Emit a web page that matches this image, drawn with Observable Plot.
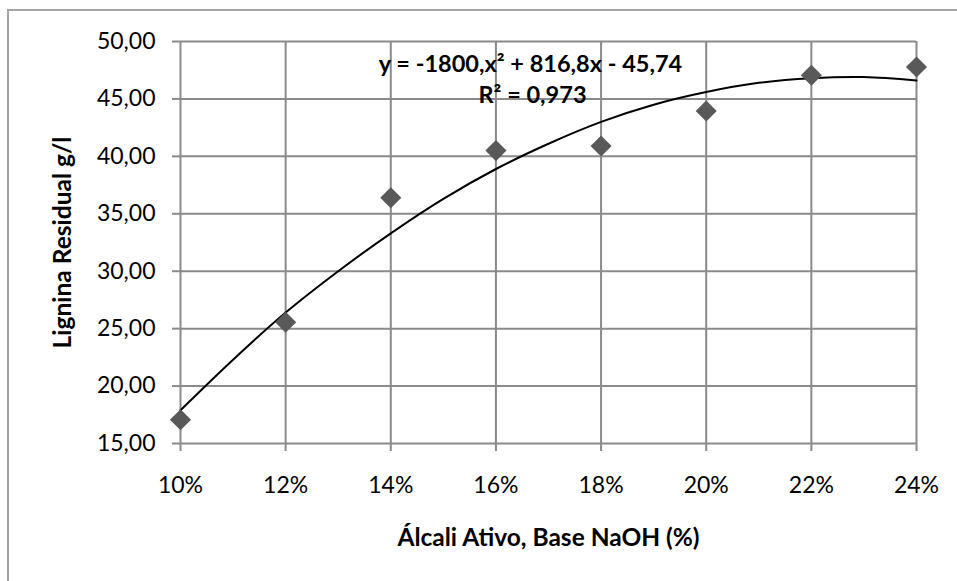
<!DOCTYPE html>
<html>
<head>
<meta charset="utf-8">
<script src="https://cdn.jsdelivr.net/npm/d3@7"></script>
<script src="https://cdn.jsdelivr.net/npm/@observablehq/plot@0.6"></script>
<style>
  html, body { margin: 0; padding: 0; background: #fff; overflow: hidden; }
  #wrap { position: relative; width: 957px; height: 581px; overflow: hidden; }
  #frame { position: absolute; left: 7px; top: 9px; width: 2000px; height: 2000px; border: 2px solid #a3a3a3; box-sizing: border-box; }
  #chart { position: absolute; left: 0; top: 0; }
</style>
</head>
<body>
<div id="wrap"><div id="frame"></div><div id="chart"></div></div>
<script>
// Measured points
const alkali = [0.10, 0.12, 0.14, 0.16, 0.18, 0.20, 0.22, 0.24];
const lignin = [17.07, 25.55, 36.4, 40.5, 40.9, 43.95, 47.06, 47.78];

// Polynomial trendline
const trendAlkali = [0.10, 0.11, 0.12, 0.13, 0.14, 0.15, 0.16, 0.17, 0.18, 0.19, 0.20, 0.21, 0.22, 0.23, 0.24];
const trendLignin = [17.9, 22.3, 26.4, 30.0, 33.3, 36.3, 38.9, 41.1, 43.0, 44.5, 45.6, 46.4, 46.8, 46.9, 46.6];

// Ticks
const xTicks = [0.10, 0.12, 0.14, 0.16, 0.18, 0.20, 0.22, 0.24];
const yTicks = [15, 20, 25, 30, 35, 40, 45, 50];

// Texts
const equationLine = "y = -1800,x² + 816,8x - 45,74";
const r2Line = "R² = 0,973";
const xTitle = "Álcali Ativo, Base NaOH (%)";
const yTitle = "Lignina Residual g/l";

const points = alkali.map((a, i) => ({a, v: lignin[i]}));
const trend = trendAlkali.map((a, i) => ({a, v: trendLignin[i]}));

const fmtX = d => Math.round(d * 100) + "%";
const fmtY = d => d.toFixed(2).replace(".", ",");

const gridColor = "#8a8a8a";

const chart = Plot.plot({
  width: 957,
  height: 581,
  marginLeft: 180,
  marginRight: 41,
  marginTop: 41,
  marginBottom: 138,
  style: {fontFamily: "Lato, 'Open Sans', sans-serif", fontSize: "23px", color: "#000", background: "transparent"},
  x: {domain: [0.10, 0.24], ticks: xTicks},
  y: {domain: [15, 50], ticks: yTicks},
  marks: [
    Plot.gridX(xTicks, {stroke: gridColor, strokeOpacity: 1, strokeWidth: 2}),
    Plot.gridY(yTicks, {stroke: gridColor, strokeOpacity: 1, strokeWidth: 2}),
    Plot.axisX(xTicks, {tickSize: 8, tickPadding: 25, stroke: gridColor, strokeWidth: 2, fill: "#000", tickFormat: fmtX, label: null, fontSize: 23}),
    Plot.axisY(yTicks, {tickSize: 8, tickPadding: 17, stroke: gridColor, strokeWidth: 2, fill: "#000", tickFormat: fmtY, label: null, fontSize: 23}),
    Plot.line(trend, {x: "a", y: "v", stroke: "#000", strokeWidth: 2, curve: "catmull-rom"}),
    Plot.dot(points, {x: "a", y: "v", symbol: "diamond2", r: 9.5, fill: "#595959", stroke: "none"}),
    Plot.text([equationLine], {frameAnchor: "top-left", dx: 350, dy: 30, text: d => d, textAnchor: "middle", lineAnchor: "bottom", fontWeight: "bold", fontSize: 23.5, fill: "#000"}),
    Plot.text([r2Line], {frameAnchor: "top-left", dx: 352, dy: 61, text: d => d, textAnchor: "middle", lineAnchor: "bottom", fontWeight: "bold", fontSize: 23.5, fill: "#000"}),
    Plot.text([xTitle], {frameAnchor: "bottom", dy: 102, text: d => d, textAnchor: "middle", lineAnchor: "bottom", fontWeight: "bold", fontSize: 24.5, fill: "#000"}),
    Plot.text([yTitle], {frameAnchor: "left", dx: -110, dy: 0, text: d => d, rotate: -90, textAnchor: "middle", lineAnchor: "bottom", fontWeight: "bold", fontSize: 24.5, fill: "#000"})
  ]
});
document.getElementById("chart").appendChild(chart);
</script>
</body>
</html>
